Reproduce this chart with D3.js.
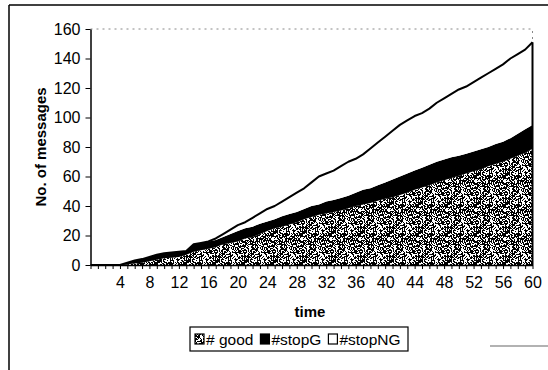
<!DOCTYPE html>
<html><head><meta charset="utf-8">
<script src="https://cdn.jsdelivr.net/npm/d3@7"></script>
<style>
html,body{margin:0;padding:0;background:#fff;}
svg{display:block;font-family:Arial,"Liberation Sans",sans-serif;}
</style></head>
<body>
<svg id="chart" width="548" height="370"></svg>
<script>
const times = d3.range(0, 61);
const good = [0,0,0,0,0,0.5,1,1.5,2.5,3.5,4.5,5,5.5,7,9,10,11,12,14,15,16,18,19,21,23,25,26,27.5,29,31,32.5,34,35,36,37,38.5,40,41,42,43.5,45,46,47.5,49,51,52.5,54,56,57.5,59,60.5,62,63.5,65,67,68.5,70,72,74,76,79];
const stopG = [0,0,0,0,0,1,2,2.5,3,3.5,3.5,3.5,3.5,2.5,5,5,5,5,5,6,7,7,7,7,6.5,6,7,7,7,7,7.5,7,8,8,8.5,8.5,9,10,10,10.5,11,12,12.5,13,13,13.5,14,14,14,14,13.5,13.5,13.5,13.5,13,13.5,13.5,14,15,16,16];
const stopNG = [0,0,0,0,0,0,0,0,0,0,0,0,0,0,0,0,0,1,2,3,4,4,6,7,8.5,9,10,11.5,13,14,16,19,19,20,21.5,23,23,24,27,29,31,33,35,36,37,37,38,40,41.5,43,45,45.5,47,48.5,50,51,52.5,54,54,54,56];
const seriesNames = ["# good", "#stopG", "#stopNG"];
const yTicks = [0,20,40,60,80,100,120,140,160];
const xLabelTicks = d3.range(4, 61, 4);

const FONT = "Arial,'Liberation Sans',sans-serif";
const svg = d3.select("#chart");
const defs = svg.append("defs");
// stipple texture (fixed integer-hash pattern, purely decorative)
const P = 29;
const pat = defs.append("pattern").attr("id","stip").attr("patternUnits","userSpaceOnUse")
  .attr("width",P).attr("height",P);
pat.append("rect").attr("width",P).attr("height",P).attr("fill","#fff");
function hash(a,b){
  let h = Math.imul(a, 374761393) + Math.imul(b, 668265263) | 0;
  h = Math.imul(h ^ (h >>> 13), 1274126177);
  h = h ^ (h >>> 16);
  return (h >>> 0) % 100;
}
for (let r=0;r<P;r++) for (let c=0;c<P;c++) {
  if (hash(r+1,c+1) < 56) pat.append("rect").attr("x",c).attr("y",r).attr("width",1).attr("height",1).attr("fill","#000");
}

const x = d3.scaleLinear().domain([0,60]).range([90.5,532.5]);
const y = d3.scaleLinear().domain([0,160]).range([265,29]);

// outer frame lines
svg.append("line").attr("x1",9).attr("x2",9).attr("y1",5).attr("y2",370).attr("stroke","#000").attr("stroke-width",1.5);
svg.append("line").attr("x1",9).attr("x2",548).attr("y1",5).attr("y2",5).attr("stroke","#000").attr("stroke-width",1.5);
svg.append("line").attr("x1",490).attr("x2",548).attr("y1",346).attr("y2",346).attr("stroke","#999").attr("stroke-width",1.5);

// plot area border (faint dotted)
svg.append("path").attr("d",`M${x(0)},${y(160)}H${x(60)}V${y(0)}`).attr("fill","none")
  .attr("stroke","#888").attr("stroke-width",1).attr("stroke-dasharray","2,4");

const data = times.map((t,i)=>({t, "# good":good[i], "#stopG":stopG[i], "#stopNG":stopNG[i]}));
const stack = d3.stack().keys(seriesNames)(data);
const area = d3.area().x(d=>x(d.data.t)).y0(d=>y(d[0])).y1(d=>y(d[1]));
const fills = ["url(#stip)","#000","#fff"];
stack.forEach((s,i)=>{
  svg.append("path").datum(s).attr("d",area).attr("fill",fills[i]).attr("stroke","none");
});
svg.append("path").datum(stack[2]).attr("fill","none").attr("stroke","#000").attr("stroke-width",2)
  .attr("stroke-linejoin","round")
  .attr("d", d3.line().x(d=>x(d.data.t)).y(d=>y(d[1])));
svg.append("line").attr("x1",x(60)).attr("x2",x(60)).attr("y1",y(stack[2][60][1])).attr("y2",y(0)).attr("stroke","#000").attr("stroke-width",2);

// y axis
const yAxis = svg.append("g").attr("transform",`translate(${x(0)},0)`)
  .call(d3.axisLeft(y).tickValues(yTicks).tickSize(5).tickSizeOuter(0).tickPadding(5));
yAxis.select(".domain").attr("stroke","#000").attr("stroke-width",1.5);
yAxis.selectAll("text").attr("font-size",16).attr("font-family",FONT).attr("fill","#000");

// x axis
const xAxis = svg.append("g").attr("transform",`translate(0,${y(0)})`)
  .call(d3.axisBottom(x).tickValues(times).tickSize(4).tickSizeOuter(0).tickFormat(d=> xLabelTicks.includes(d) ? d : "").tickPadding(8));
xAxis.select(".domain").attr("stroke","#000").attr("stroke-width",1.5);
xAxis.selectAll("text").attr("font-size",16).attr("font-family",FONT).attr("fill","#000");

// axis titles
svg.append("text").attr("x",310).attr("y",317).attr("text-anchor","middle")
  .attr("font-size",15).attr("font-weight","bold").text("time");
svg.append("text").attr("transform","translate(46,147) rotate(-90)").attr("text-anchor","middle")
  .attr("font-size",15).attr("font-weight","bold").text("No. of messages");

// legend
const lg = svg.append("g");
lg.append("rect").attr("x",190).attr("y",327).attr("width",218).attr("height",24)
  .attr("fill","#fff").attr("stroke","#000").attr("stroke-width",1.2);
let cx = 195;
seriesNames.forEach((n,i)=>{
  lg.append("rect").attr("x",cx).attr("y",334).attr("width",9).attr("height",10)
    .attr("fill",fills[i]).attr("stroke","#000").attr("stroke-width",1.2);
  const t = lg.append("text").attr("x",cx+11).attr("y",345).attr("font-size",15.5).text(n);
  cx += 11 + t.node().getComputedTextLength() + 7;
});
</script>
</body></html>
